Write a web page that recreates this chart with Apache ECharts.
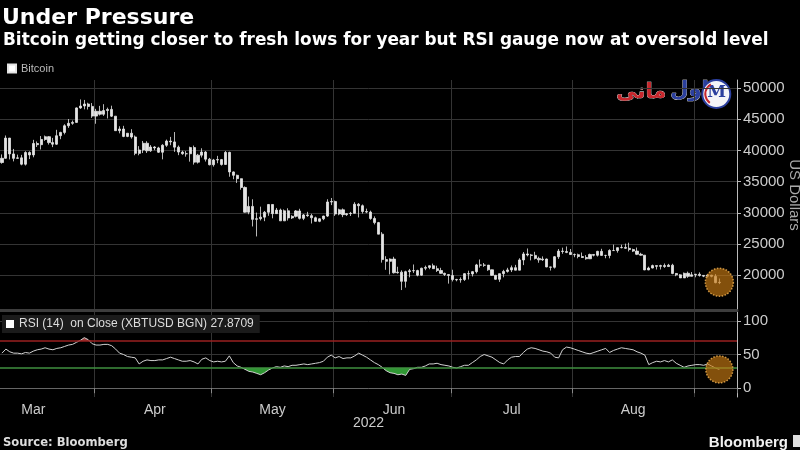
<!DOCTYPE html>
<html><head><meta charset="utf-8">
<script src="https://cdn.jsdelivr.net/npm/echarts@6/dist/echarts.min.js"></script>
<style>html,body{margin:0;padding:0;background:#000;}#c{width:800px;height:450px;}</style>
</head><body><div id="c"></div>
<script>
// ---- data (daily, 2022-03-08 .. 2022-09-07) ----
const startDate = [2022, 2, 8];
const axisDays = 188;
const opens = [38060,38740,41980,39440,38730,38810,37790,39670,39280,41110,40920,41760,42200,41260,41000,42360,42890,43960,44350,44500,46820,47130,47450,47060,
45510,46280,45810,46400,46580,45500,43170,43440,42250,42760,42160,39530,40070,41150,39940,40550,40400,39710,40830,41500,41370,40530,39740,39470,39470,40460,38120,39240,39740,38600,
37710,38470,38530,37750,39690,36550,36010,35470,34060,30100,31020,28940,29050,29300,30080,31330,29860,30430,28700,30310,29180,29430,30290,29100,29650,29540,29200,28630,29030,29470,31730,
31800,29800,30470,29700,29860,29910,31370,31130,30200,30110,29080,28420,26570,22490,22210,22570,20380,20470,19000,20550,20700,20720,19990,21100,21230,21500,21030,20730,20280,20100,
19930,19300,19240,19300,20230,20190,20550,21630,21590,21600,20850,19960,19330,20230,20590,20830,21190,20790,22430,23390,23230,23160,22680,22450,22580,21310,21250,22950,23850,23780,23640,
23300,23270,22980,22820,22620,23310,23180,23810,23160,23150,23950,23930,24400,24440,24300,24100,23850,23340,23200,20830,21140,21520,21400,21530,21370,21590,20260,20040,19550,20290,19800,
20050,20130,19950,19830,19990,19800,18790];
const closes = [38740,41980,39440,38730,38810,37790,39670,39280,41110,40920,41760,42200,41260,41000,42360,42890,43960,44350,44500,46820,47130,47450,47060,45510,
46280,45810,46400,46580,45500,43170,43440,42250,42760,42160,39530,40070,41150,39940,40550,40400,39710,40830,41500,41370,40530,39740,39470,39470,40460,38120,39240,39740,38600,37710,
38470,38530,37750,39690,36550,36010,35470,34060,30100,31020,28940,29050,29300,30080,31330,29860,30430,28700,30310,29180,29430,30290,29100,29650,29540,29200,28630,29030,29470,31730,31800,
29800,30470,29700,29860,29910,31370,31130,30200,30110,29080,28420,26570,22490,22210,22570,20380,20470,19000,20550,20700,20720,19990,21100,21230,21500,21030,20730,20280,20100,19930,
19300,19240,19300,20230,20190,20550,21630,21590,21600,20850,19960,19330,20230,20590,20830,21190,20790,22430,23390,23230,23160,22680,22450,22580,21310,21250,22950,23850,23780,23640,23300,
23270,22980,22820,22620,23310,23180,23810,23160,23150,23950,23930,24400,24440,24300,24100,23850,23340,23200,20830,21140,21520,21400,21530,21370,21590,20260,20040,19550,20290,19800,20050,
20130,19950,19830,19990,19800,18790,18850];
const lows = [37870,38660,38560,38240,38660,37620,37580,38620,38900,40550,40150,41540,40940,40530,40900,41800,42580,43620,44120,44430,46670,46590,46560,45220,
44280,45600,45540,45130,45360,43120,42740,42130,42130,41890,39230,39220,39580,39590,39770,40040,39600,38570,40570,40840,39770,39240,39300,39000,38200,37730,37890,38870,38220,37600,
37400,37950,37570,37700,35780,35380,34780,33700,30030,29760,27800,26200,28760,28650,29510,29110,29830,28680,28680,28750,29000,29250,28920,28820,29350,28280,28570,28490,28810,29330,31230,
29500,29600,29300,29500,29480,29890,29250,29870,29940,28880,28130,26560,22000,20850,20110,20250,20240,17600,17990,19640,20350,19800,19900,20780,20940,20990,20500,20200,19850,18630,
18980,19000,18780,19060,19300,19780,20270,21200,21320,20680,19880,19250,18910,19640,20400,20490,20760,20760,21600,23000,22360,22500,21980,22280,21260,20730,21050,22600,23420,23520,23220,
22870,22690,22740,22470,22590,23000,22980,23130,22700,22690,23900,23600,24290,24200,23800,23700,23210,23130,20790,20780,21070,20900,20900,21160,21340,20140,19820,19540,19550,19560,19800,
19650,19760,19670,19620,19640,18680,18550];
const highs = [39360,42400,42000,40240,39330,39290,39870,39860,41700,41440,42310,42390,42300,42010,43310,42990,44200,45040,44790,46900,48180,48100,47650,47600,
46670,47150,47420,46870,47180,45500,43880,43950,42800,43410,42400,40690,41520,41480,40860,40680,40580,41000,41740,42170,42950,40790,39950,39900,40600,40780,39450,40350,39890,38800,
38640,39130,38630,39900,39790,36630,36110,35500,34230,32600,32160,30030,30980,30290,31400,31330,30770,30660,30530,30720,29600,30440,30640,29800,30150,29830,29380,29100,29520,32170,32370,
31950,30650,30690,29940,30140,31690,31550,31330,30660,30340,29420,28530,26890,23030,22680,22940,21340,20760,20700,20990,21700,20860,21190,21520,21560,21840,21500,21170,20390,20140,
20860,19400,19630,20300,20700,20660,21800,22500,21940,21620,20880,20040,20250,20850,21170,21540,21640,22700,23700,24270,23400,23740,22960,23000,22650,21340,23050,24180,24400,24600,24180,
23460,23440,23620,23200,23440,23360,23900,24220,23250,24140,24900,24450,24880,25050,25200,24230,24420,23580,23200,21360,21680,21520,21660,21860,21800,21820,20340,20160,20410,20560,20490,
20200,20440,19970,20000,20040,20160,19450];
const rsi = [52,58,54,52,52,51,53,52,55,57,
58,60,58,57,59,60,62,64,65,68,
71,75,72,66,64,64,65,65,63,58,
52,50,47,46,45,36,40,42,41,41,
42,42,44,46,44,42,40,40,41,39,
36,43,45,41,39,40,39,40,48,38,
33,31,28,25,24,22,20,23,27,30,
32,31,33,32,34,34,35,36,35,36,
37,38,40,46,49,45,47,44,45,45,
48,52,49,46,42,38,35,31,26,23,
22,20,21,19,28,29,31,31,33,36,
36,37,35,34,33,31,30,32,34,34,
38,42,47,50,48,46,42,38,36,42,
46,47,47,53,58,60,59,57,55,54,
52,46,45,57,61,60,58,56,54,52,
51,53,55,57,59,53,56,58,60,59,
58,57,54,52,49,35,38,40,39,41,
39,42,37,34,31,33,34,35,35,34,
36,33,30,27.8709];
const priceTicks = [20000,25000,30000,35000,40000,45000,50000];
const rsiTicks = [0,50,100];
const rsiUpper = 70, rsiLower = 30;
const monthNames = ['Jan','Feb','Mar','Apr','May','Jun','Jul','Aug','Sep','Oct','Nov','Dec'];

// ---- derived ----
const dates = [];
const t0 = Date.UTC(startDate[0], startDate[1], startDate[2]);
for (let i = 0; i < axisDays; i++) dates.push(new Date(t0 + i * 86400000).toISOString().slice(0, 10));
const dayOf = s => +s.slice(8, 10);
const monOf = s => monthNames[+s.slice(5, 7) - 1];
const candles = opens.map((o, i) => [o, closes[i], lows[i], highs[i]]);
const last = closes.length - 1;
const rsiLast = rsi[rsi.length - 1];
const rsiName = 'RSI (14)  on Close (XBTUSD BGN) ' + rsiLast.toFixed(4);
const loBase = rsi.map(v => Math.min(v, rsiLower));
const loFill = rsi.map(v => rsiLower - Math.min(v, rsiLower));
const hiBase = rsi.map(() => rsiUpper);
const hiFill = rsi.map(v => Math.max(v, rsiUpper) - rsiUpper);

const gridColor = '#343434';
const lab = 'Liberation Sans';
const monthStart = (i, v) => dayOf(v) === 1;
const monthMid = (i, v) => dayOf(v) === 16;
const orange = { color: 'rgba(200,122,18,0.82)', borderColor: '#f3b352', borderWidth: 1.5, borderType: 'dotted' };
const plain = v => String(v);

const chart = echarts.init(document.getElementById('c'), null, { renderer: 'canvas' });
chart.setOption({
  backgroundColor: '#000',
  animation: false,
  title: [
    { text: 'Under Pressure', left: 2, top: 7, padding: 0, textStyle: { color: '#fff', fontSize: 22, fontWeight: 'bold', fontFamily: 'DejaVu Sans' } },
    { text: 'Bitcoin getting closer to fresh lows for year but RSI gauge now at oversold level', left: 3, top: 32, padding: 0, textStyle: { color: '#fff', fontSize: 16.9, fontWeight: 'bold', fontFamily: 'DejaVu Sans' } },
    { text: 'Source: Bloomberg', left: 3, top: 437, padding: 0, textStyle: { color: '#ddd', fontSize: 11.6, fontWeight: 'bold', fontFamily: 'DejaVu Sans' } },
    { text: 'Bloomberg', right: 12, top: 435, padding: 0, textStyle: { color: '#f2f2f2', fontSize: 15, fontWeight: 'bold', fontFamily: lab } }
  ],
  legend: [
    { data: [{ name: 'Bitcoin', itemStyle: { color: '#fff' } }], left: 7, top: 63, icon: 'rect', itemWidth: 8, itemHeight: 8, itemGap: 2, padding: 0,
      textStyle: { color: '#bbb', fontSize: 11, fontFamily: lab }, selectedMode: false },
    { data: [{ name: rsiName, itemStyle: { color: '#fff' } }], left: 2, top: 315, icon: 'rect', itemWidth: 8, itemHeight: 8, padding: [3, 6, 3, 4],
      backgroundColor: '#1b1b1b', textStyle: { color: '#ddd', fontSize: 12, fontFamily: lab }, selectedMode: false }
  ],
  grid: [
    { left: 0, right: 63, top: 80, height: 230, containLabel: false, outerBoundsMode: 'none' },
    { left: 0, right: 63, top: 312, height: 85, containLabel: false, outerBoundsMode: 'none' }
  ],
  xAxis: [
    { type: 'category', gridIndex: 0, data: dates, boundaryGap: true,
      axisLine: { show: true, lineStyle: { color: '#3d3d3d', width: 3 } },
      axisTick: { show: false }, axisLabel: { show: false },
      splitLine: { show: true, interval: monthStart, lineStyle: { color: gridColor } } },
    { type: 'category', gridIndex: 1, data: dates, boundaryGap: true,
      axisLine: { show: true, lineStyle: { color: '#666' } },
      axisTick: { show: true, interval: monthStart, length: 5, lineStyle: { color: '#888' } },
      axisLabel: { interval: monthMid, formatter: v => monOf(v), color: '#ccc', fontSize: 14, fontFamily: lab, margin: 6 },
      splitLine: { show: true, interval: monthStart, lineStyle: { color: gridColor } } }
  ],
  yAxis: [
    { type: 'value', gridIndex: 0, position: 'right', min: 14400, max: 51300,
      name: 'US Dollars', nameLocation: 'middle', nameRotate: -90, nameGap: 50, nameMoveOverlap: false,
      nameTextStyle: { color: '#aaa', fontSize: 15, fontFamily: lab },
      axisLine: { show: true, lineStyle: { color: '#bbb' } },
      axisTick: { show: true, length: 4, customValues: priceTicks, lineStyle: { color: '#bbb' } },
      axisLabel: { customValues: priceTicks, formatter: plain, color: '#ccc', fontSize: 15, fontFamily: lab, margin: 6 },
      splitLine: { show: true, customValues: priceTicks, lineStyle: { color: gridColor } } },
    { type: 'value', gridIndex: 1, position: 'right', min: -13, max: 113,
      axisLine: { show: true, lineStyle: { color: '#bbb' } },
      axisTick: { show: true, length: 4, customValues: rsiTicks, lineStyle: { color: '#bbb' } },
      axisLabel: { customValues: rsiTicks, formatter: plain, color: '#ccc', fontSize: 15, fontFamily: lab, margin: 6 },
      splitLine: { show: true, customValues: rsiTicks, lineStyle: { color: gridColor } } }
  ],
  series: [
    { name: 'Bitcoin', type: 'candlestick', xAxisIndex: 0, yAxisIndex: 0, data: candles, barWidth: 2.6,
      itemStyle: { color: '#e4e4e4', color0: '#e4e4e4', borderColor: '#e4e4e4', borderColor0: '#e4e4e4', borderWidth: 0.8 } },
    { type: 'scatter', xAxisIndex: 0, yAxisIndex: 0, data: [[dates[last], closes[last]]], symbolSize: 28, itemStyle: orange, z: 5, silent: true },
    { type: 'line', xAxisIndex: 1, yAxisIndex: 1, data: loBase, stack: 'lo', symbol: 'none', lineStyle: { opacity: 0 }, silent: true },
    { type: 'line', xAxisIndex: 1, yAxisIndex: 1, data: loFill, stack: 'lo', symbol: 'none', lineStyle: { opacity: 0 }, areaStyle: { color: '#35a83a', opacity: 0.9 }, silent: true },
    { type: 'line', xAxisIndex: 1, yAxisIndex: 1, data: hiBase, stack: 'hi', symbol: 'none', lineStyle: { opacity: 0 }, silent: true },
    { type: 'line', xAxisIndex: 1, yAxisIndex: 1, data: hiFill, stack: 'hi', symbol: 'none', lineStyle: { opacity: 0 }, areaStyle: { color: '#c0504d', opacity: 0.8 }, silent: true },
    { name: rsiName, type: 'line', xAxisIndex: 1, yAxisIndex: 1, data: rsi, symbol: 'none', lineStyle: { color: '#d2d2d2', width: 1 }, z: 4,
      markLine: { silent: true, symbol: 'none', label: { show: false },
        data: [ { yAxis: rsiUpper, lineStyle: { color: '#9a2020', width: 1.5, type: 'solid' } },
                { yAxis: rsiLower, lineStyle: { color: '#3f8f3f', width: 1.5, type: 'solid' } } ] } },
    { type: 'scatter', xAxisIndex: 1, yAxisIndex: 1, data: [[dates[last], rsiLast]], symbolSize: 27, itemStyle: orange, z: 5, silent: true }
  ],
  graphic: [
    { type: 'text', left: 353, top: 416, style: { text: '2022', fill: '#ccc', font: '14px "Liberation Sans"' } },
    { type: 'rect', right: 0, top: 435, shape: { width: 7, height: 12 }, style: { fill: '#ddd' } },
    { type: 'group', left: 616, top: 79, children: [
      { type: 'text', x: 0, y: 2, style: { text: 'مانی', fill: '#c7262c', font: 'bold 21px "DejaVu Sans"', stroke: '#fff', lineWidth: 0.6 } },
      { type: 'text', x: 54, y: 0, style: { text: 'اول', fill: '#2b3f9e', font: 'bold 21px "DejaVu Sans"', stroke: '#fff', lineWidth: 0.6 } },
      { type: 'circle', shape: { cx: 100, cy: 14, r: 14 }, style: { fill: '#f4f4f8', stroke: '#2b3f9e', lineWidth: 2 } },
      { type: 'text', x: 91, y: 4, style: { text: 'M', fill: '#2b3f9e', font: 'bold 17px "DejaVu Serif"' } },
      { type: 'arc', shape: { cx: 100, cy: 14, r: 11, startAngle: 2.2, endAngle: 4.2 }, style: { stroke: '#c7262c', lineWidth: 2, fill: null } }
    ] }
  ]
});
</script>
</body></html>
